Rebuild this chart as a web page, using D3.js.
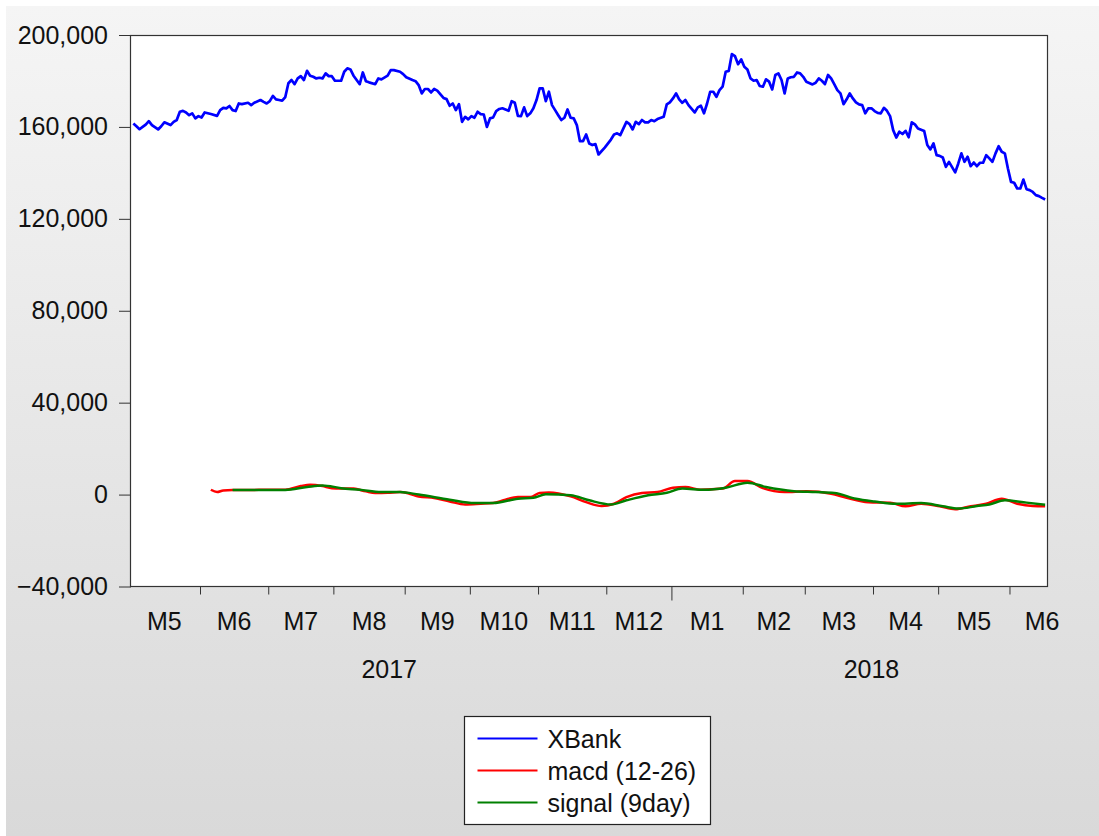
<!DOCTYPE html>
<html>
<head>
<meta charset="utf-8">
<script src="https://cdn.jsdelivr.net/npm/d3@7"></script>
<style>
  body { margin: 0; background: #fff; }
  text { font-family: 'Liberation Sans', Arial, sans-serif; fill: #111; }
</style>
</head>
<body>
<script>
// XBank daily close (day = weekday index from 2 May 2017)
const xbankDay = [0,1,2,3,4,5,6,8,9,10,12,13,14,15,16,17,18,19,20,21,22,23,25,27,28,29,30,31,32,33,34,35,37,38,39,41,42,43,44,45,46,47,48,49,
  50,51,52,53,54,55,56,57,58,59,60,61,62,63,64,65,66,67,68,69,70,71,73,74,75,76,78,79,80,82,83,84,86,87,88,90,91,92,93,94,95,96,97,98,
  100,101,102,103,104,105,106,107,108,109,110,111,112,113,114,115,116,117,118,119,121,122,123,124,125,126,127,128,129,130,131,132,133,134,135,136,137,138,139,140,141,142,143,144,145,146,147,148,149,150,152,154,
  155,156,157,159,160,161,162,163,164,165,166,167,168,169,171,172,173,174,175,176,177,178,179,181,182,183,184,185,186,187,188,189,190,191,192,193,194,195,196,197,198,199,
  200,201,202,203,204,205,206,207,208,209,210,211,212,213,214,215,216,217,219,220,221,222,223,224,225,226,227,228,229,230,231,232,233,234,235,236,237,238,239,240,241,242,243,244,245,246,247,248,249,
  250,251,252,253,255,256,257,258,259,260,261,262,263,265,266,267,268,269,270,271,272,273,274,275,276,277,278,279,280,281,282,283,284,285,286,287,288,289,290,291,292,293,294];
const xbankVal = [161500,160300,159000,160000,161000,162500,160800,158900,160300,162000,160800,162200,163000,166600,167000,166300,165100,165900,163700,164700,164100,166300,165600,164800,167300,168300,168100,169100,167300,166900,170200,169900,170500,169500,170500,171700,170900,170200,171200,173500,172000,171700,171400,173000,
  179000,180400,178600,181100,182100,180400,184400,182300,181800,181100,181400,181100,183300,182100,182100,180100,180100,180100,184000,185500,185000,182300,178600,183700,179900,179400,178600,181100,180700,182300,184700,184700,184000,183000,181600,180400,179900,178200,174600,176500,176500,175000,176500,175800,
  172600,172100,169200,170200,167300,169900,162200,164400,163300,164700,164000,166600,165600,165400,160000,163700,164100,166900,167800,168100,167000,171200,170500,164800,164700,168500,164700,165900,168100,171700,176800,176800,171200,175300,169500,167300,165100,163000,164000,167600,164000,163700,160800,153800,153800,156700,152800,152100,152500,148000,151000,154500,
  156700,157200,156400,162200,161200,158900,162200,161200,163000,162000,162000,163000,162500,163400,164400,169800,170700,172400,174600,172000,170500,171700,169500,166300,168500,169200,165900,170200,175300,175300,173100,176000,177500,184000,184400,191700,190800,187300,189400,186200,185000,181100,
  180100,180400,177800,177500,180700,179700,176300,182600,183300,180400,174600,181100,181600,181800,183700,183300,181800,179700,178500,179200,181100,180100,178600,182600,181100,178600,176000,174600,169900,172000,174600,172400,170700,169800,169500,165900,168100,168100,166900,166100,165900,168300,167000,164700,158600,155400,157900,156900,158300,
  155500,162000,161100,159300,158200,152100,150200,152800,147700,147400,146700,142600,144800,140200,144100,148500,144800,147000,142900,144500,142900,144400,144400,147700,146300,144800,148500,151600,149200,148500,141900,136100,135700,133200,133200,137100,132900,132500,131700,130300,129900,129100,128400];

// MACD (12-26) and signal (9 day)
const macdDay = [25,27,29,32,49,54,57,61,64,71,75,78,82,86,89,92,97,102,107,112,116,120,124,128,131,134,141,146,151,155,159,164,169,174,178,183,190,194,198,203,210,217,225,230,237,244,249,254,260,265,270,275,280,285,290,294];
const macdVal = [2100,1100,1800,2000,2100,3700,4300,3700,2800,2600,1400,700,800,1100,400,-800,-1500,-3000,-4300,-4000,-3700,-2200,-1100,-1100,700,900,-800,-3300,-5000,-4000,-1100,700,1100,3000,3300,2100,2600,5900,5900,2800,1100,1400,400,-1400,-3300,-3500,-5100,-4000,-5100,-6400,-5100,-4000,-1800,-4000,-5000,-5100];
const signalDay = [32,49,56,61,67,73,80,86,92,102,110,116,124,129,133,141,147,154,159,166,172,177,184,191,198,204,213,220,226,233,239,246,254,261,266,272,276,281,288,294];
const signalVal = [2000,2000,3300,4000,2800,2100,1100,1100,0,-2200,-3700,-3700,-1800,-1400,100,-300,-2500,-4300,-2500,-300,800,2600,2100,3000,5200,3300,1500,1100,700,-1800,-3000,-4000,-3700,-5100,-6100,-5000,-4300,-2500,-3500,-4400];

// calendar: weekdays in each month shown, May 2017 .. Jun 2018
const monthLabels = ['M5','M6','M7','M8','M9','M10','M11','M12','M1','M2','M3','M4','M5','M6'];
const monthDays = [23,22,21,23,21,22,22,21,23,20,22,21,23,21];
const yearLabels = ['2017','2018'];
const yearCenter = [82.5, 238];
const yTicks = [-40000, 0, 40000, 80000, 120000, 160000, 200000];

const legendItems = [
  {name: 'XBank', color: '#0000ff'},
  {name: 'macd (12-26)', color: '#ff0000'},
  {name: 'signal (9day)', color: '#008000'}
];

const width = 1099, height = 836;
const plot = {left: 131, right: 1047, top: 35, bottom: 586.5};

// month edges in day units (first observation is 2nd weekday of May)
const edges = [-1.5];
monthDays.forEach(d => edges.push(edges[edges.length - 1] + d));

const svg = d3.select('body').append('svg')
  .attr('width', width)
  .attr('height', height);

// slide background
const grad = svg.append('defs').append('linearGradient')
  .attr('id', 'bg').attr('x1', 0).attr('y1', 0).attr('x2', 0).attr('y2', 1);
grad.append('stop').attr('offset', '0%').attr('stop-color', '#f5f5f5');
grad.append('stop').attr('offset', '100%').attr('stop-color', '#d9d9d9');
svg.append('rect').attr('x', 6).attr('y', 6).attr('width', width - 6).attr('height', height - 6)
  .attr('fill', 'url(#bg)');

const x = d3.scaleLinear().domain([-0.75, 294.6]).range([plot.left, plot.right]);
const y = d3.scaleLinear().domain([-40000, 200000]).range([plot.bottom, plot.top]);

// plot area
svg.append('rect')
  .attr('x', plot.left).attr('y', plot.top)
  .attr('width', plot.right - plot.left).attr('height', plot.bottom - plot.top)
  .attr('fill', '#fff');

// y axis
const yAxis = svg.append('g')
  .attr('transform', `translate(${plot.left},0)`)
  .call(d3.axisLeft(y).tickValues(yTicks).tickSize(12).tickPadding(11).tickFormat(d3.format(',')));
yAxis.select('.domain').remove();
yAxis.selectAll('line').attr('stroke', '#333');
yAxis.selectAll('text').style('font-size', '25px').attr('fill', '#111');

// x axis: ticks at month boundaries
const inner = edges.filter(e => e > x.domain()[0] && e < x.domain()[1]);
const xAxis = svg.append('g')
  .attr('transform', `translate(0,${plot.bottom})`)
  .call(d3.axisBottom(x).tickValues(inner).tickSize(8).tickFormat(''));
xAxis.select('.domain').remove();
xAxis.selectAll('line').attr('stroke', '#333');
xAxis.selectAll('.tick').filter(d => d === edges[8]).select('line').attr('y2', 14);

// month labels
svg.append('g').selectAll('text')
  .data(monthLabels)
  .join('text')
  .attr('x', (d, i) => x((edges[i] + edges[i + 1]) / 2))
  .attr('y', 630)
  .attr('text-anchor', 'middle')
  .style('font-size', '25px')
  .text(d => d);

// year labels
svg.append('g').selectAll('text')
  .data(yearLabels)
  .join('text')
  .attr('x', (d, i) => x(yearCenter[i]))
  .attr('y', 678)
  .attr('text-anchor', 'middle')
  .style('font-size', '25px')
  .text(d => d);

// series
const xbank = xbankDay.map((d, i) => ({day: d, v: xbankVal[i]}));
const macd = macdDay.map((d, i) => ({day: d, v: macdVal[i]}));
const signal = signalDay.map((d, i) => ({day: d, v: signalVal[i]}));

const line = d3.line().x(d => x(d.day)).y(d => y(d.v));
const smooth = d3.line().x(d => x(d.day)).y(d => y(d.v)).curve(d3.curveMonotoneX);

svg.append('path').datum(xbank)
  .attr('d', line).attr('fill', 'none')
  .attr('stroke', legendItems[0].color).attr('stroke-width', 2.7).attr('stroke-linejoin', 'round');
svg.append('path').datum(macd)
  .attr('d', smooth).attr('fill', 'none')
  .attr('stroke', legendItems[1].color).attr('stroke-width', 2.5);
svg.append('path').datum(signal)
  .attr('d', smooth).attr('fill', 'none')
  .attr('stroke', legendItems[2].color).attr('stroke-width', 2.5);

// frame
svg.append('rect')
  .attr('x', plot.left - 0.5).attr('y', plot.top + 0.5)
  .attr('width', plot.right - plot.left + 1).attr('height', plot.bottom - plot.top - 0.5)
  .attr('fill', 'none').attr('stroke', '#333').attr('stroke-width', 1.2);

// legend
const legend = svg.append('g').attr('transform', 'translate(464.5,716.5)');
legend.append('rect')
  .attr('width', 246).attr('height', 108)
  .attr('fill', '#fff').attr('stroke', '#222').attr('stroke-width', 1.2);
const item = legend.selectAll('g.item')
  .data(legendItems)
  .join('g')
  .attr('class', 'item')
  .attr('transform', (d, i) => `translate(0,${22 + i * 32})`);
item.append('line')
  .attr('x1', 13).attr('x2', 73)
  .attr('stroke', d => d.color).attr('stroke-width', 2);
item.append('text')
  .attr('x', 83).attr('y', 9)
  .style('font-size', '25px')
  .text(d => d.name);
</script>
</body>
</html>
